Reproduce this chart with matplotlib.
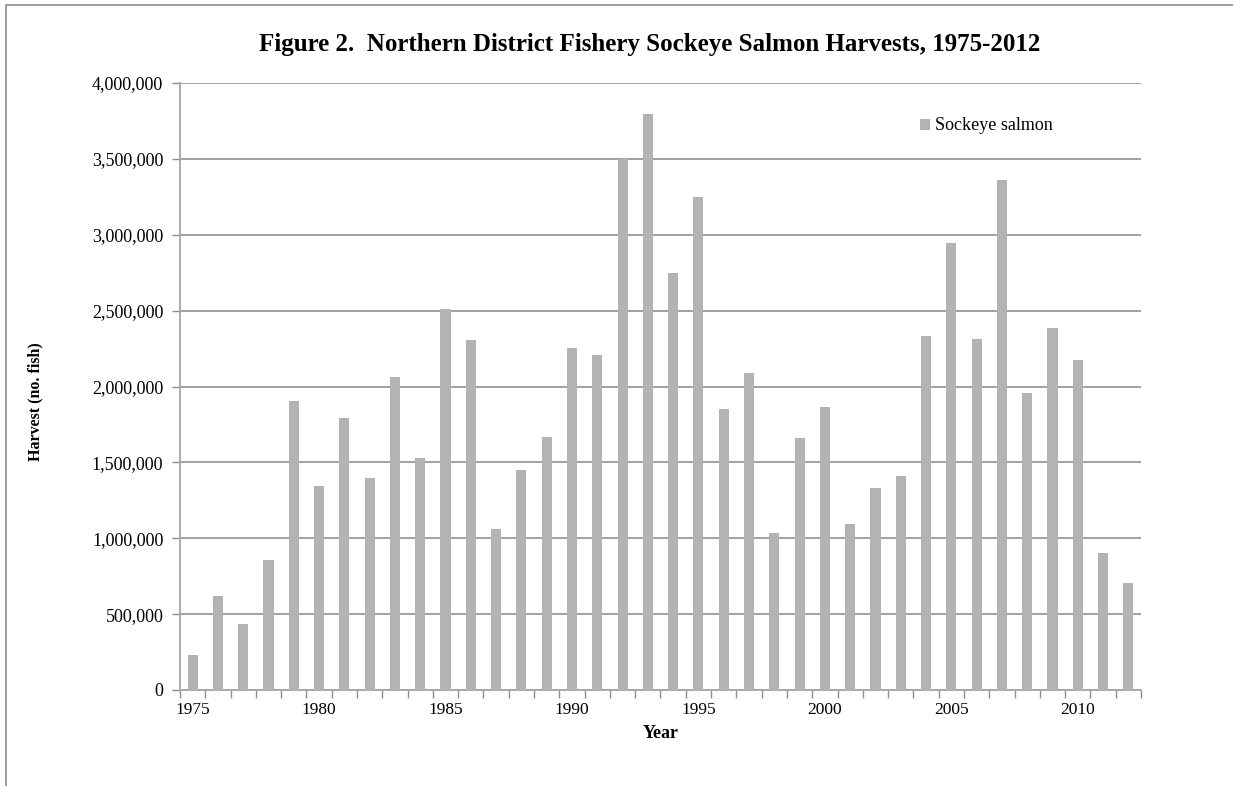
import matplotlib.pyplot as plt
from matplotlib.patches import Rectangle
from matplotlib.ticker import FuncFormatter
import numpy as np

plt.rcParams['font.family'] = ['Liberation Serif', 'DejaVu Serif']

# Northern District sockeye harvest by year (number of fish)
years = list(range(1975, 2013))
harvest = [228000, 618000, 436000, 854000, 1905000, 1346000, 1795000, 1400000,
           2062000, 1531000, 2513000, 2305000, 1064000, 1449000, 1664000, 2256000,
           2210000, 3497000, 3797000, 2749000, 3246000, 1854000, 2092000, 1036000,
           1662000, 1867000, 1095000, 1333000, 1413000, 2336000, 2944000, 2313000,
           3359000, 1954000, 2387000, 2174000, 900000, 705000]
label_years = [1975, 1980, 1985, 1990, 1995, 2000, 2005, 2010]

W, H = 1233, 786
fig = plt.figure(figsize=(W / 100, H / 100), dpi=100)

# outer frame, cut off on the right and bottom
fig.patches.append(Rectangle((6 / W, -0.1), 1.2, 1 - 5 / H + 0.1, transform=fig.transFigure,
                             fill=False, edgecolor='#8c8c8c', linewidth=1.2))

ax = fig.add_axes([180 / W, 96 / H, (1141 - 180) / W, (690 - 83) / H])

x = np.arange(len(years))
ax.bar(x, harvest, width=0.4, color='#b3b3b3', zorder=3, label='Sockeye salmon')

ax.set_xlim(-0.5, len(years) - 0.5)
ax.set_ylim(0, 4000000)
ax.set_yticks(np.arange(0, 4000001, 500000))
ax.yaxis.set_major_formatter(FuncFormatter(lambda v, p: f'{int(v):,}'))
ax.grid(axis='y', color='#868686', linewidth=1.1, zorder=0)

# year labels every five years, tick marks between categories
ax.set_xticks([years.index(y) for y in label_years])
ax.set_xticklabels([str(y) for y in label_years])
ax.set_xticks(np.arange(-0.5, len(years)), minor=True)
ax.tick_params(axis='x', which='major', length=0, pad=9, labelsize=12.5)
ax.tick_params(axis='x', which='minor', length=6, width=1, color='#8c8c8c', direction='out')
ax.tick_params(axis='y', length=6, width=1, color='#8c8c8c', pad=6, labelsize=13)

for side in ['top', 'right']:
    ax.spines[side].set_visible(False)
for side in ['left', 'bottom']:
    ax.spines[side].set_color('#a6a6a6')
    ax.spines[side].set_linewidth(1.3)

ax.set_xlabel('Year', fontsize=13, fontweight='bold', labelpad=5)
fig.text(35 / W, 1 - 402 / H, 'Harvest (no. fish)', rotation=90, fontsize=11.5,
         fontweight='bold', ha='center', va='center')
fig.text(650 / W, 1 - 45 / H, 'Figure 2.  Northern District Fishery Sockeye Salmon Harvests, 1975-2012',
         fontsize=18, fontweight='bold', ha='center', va='center')

ax.legend(loc='center left', bbox_to_anchor=(920 / W, 1 - 126 / H), bbox_transform=fig.transFigure,
          frameon=False, fontsize=13, handlelength=0.55, handleheight=0.55, handletextpad=0.3,
          borderpad=0, borderaxespad=0)

fig.savefig('out.png', dpi=100)
